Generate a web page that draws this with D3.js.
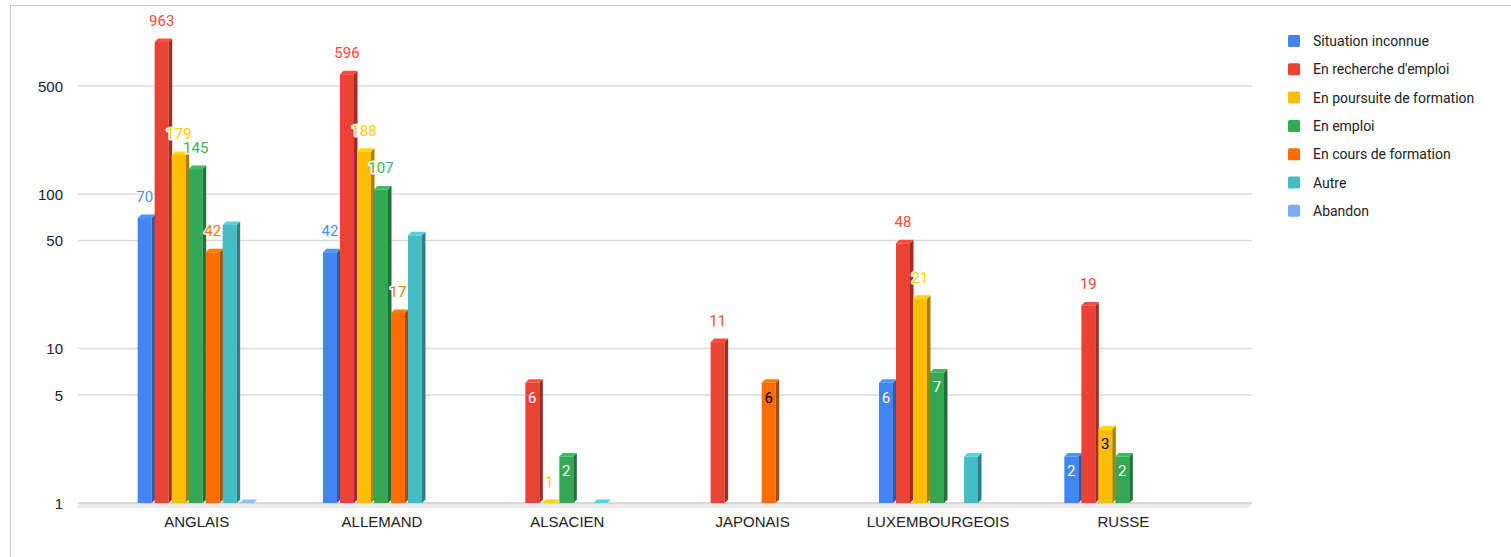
<html>
<head>
    <title>Situation par langue</title>
    <script src='https://d3js.org/d3.v7.min.js'></script>
    <style>
        body { margin: 0; background: #fff; }
        text { font-family: Roboto, Arial, sans-serif; }
        .axis text { font-family: "Liberation Sans", Arial, sans-serif; font-size: 15px; }
    </style>
</head>
<body>
    <svg id="chart"></svg>
    <script>
        // données (0 = pas de barre)
        var categories = ["ANGLAIS", "ALLEMAND", "ALSACIEN", "JAPONAIS", "LUXEMBOURGEOIS", "RUSSE"];
        var seriesNames = ["Situation inconnue", "En recherche d'emploi", "En poursuite de formation",
            "En emploi", "En cours de formation", "Autre", "Abandon"];
        var situationInconnue = [70, 42, 0, 0, 6, 2];
        var rechercheEmploi = [963, 596, 6, 11, 48, 19];
        var poursuiteFormation = [179, 188, 1, 0, 21, 3];
        var enEmploi = [145, 107, 2, 0, 7, 2];
        var coursFormation = [42, 17, 0, 6, 0, 0];
        var autre = [63, 54, 1, 0, 2, 0];
        var abandon = [1, 0, 0, 0, 0, 0];
        var yTicks = [1, 5, 10, 50, 100, 500];

        var values = [situationInconnue, rechercheEmploi, poursuiteFormation, enEmploi, coursFormation, autre, abandon];
        var colors = ["#4285f4", "#ea4335", "#fbbc04", "#34a853", "#ff6d01", "#46bdc6", "#7baaf7"];
        var labelled = [true, true, true, true, true, false, false];
        var darkText = [false, false, true, false, true, false, false];

        var W = 1511, H = 557;
        var svg = d3.select("#chart").attr("width", W).attr("height", H);

        // cadre
        svg.append("rect").attr("x", 10.5).attr("y", 5.5).attr("width", W).attr("height", H)
            .attr("fill", "none").attr("stroke", "#c8c8c8");

        var x = d3.scaleBand().domain(categories).range([104, 1216]);
        var xs = d3.scaleBand().domain(d3.range(seriesNames.length)).range([0, 119]);
        var y = d3.scaleLog().domain([1, 1000]).range([503, 39.5]);
        var depth = 3.5, barW = 14;

        // sol 3D
        svg.append("path")
            .attr("d", "M76,508 L1248,508 L1252,503 L80,503 Z")
            .attr("fill", "#ebebeb");

        // grille
        svg.append("g").selectAll("line").data(yTicks).enter().append("line")
            .attr("x1", 78).attr("x2", 1252)
            .attr("y1", function (d) { return y(d); })
            .attr("y2", function (d) { return y(d); })
            .attr("stroke", function (d) { return d == 1 ? "#cfcfcf" : "#dadada"; })
            .attr("stroke-width", 1.5);

        svg.append("g").attr("class", "axis").selectAll("text").data(yTicks).enter().append("text")
            .attr("x", 63).attr("y", function (d) { return y(d) + 5.5; })
            .attr("text-anchor", "end").style("fill", "#222")
            .text(function (d) { return d; });

        var xAxis = svg.append("g").attr("class", "axis").attr("transform", "translate(0,503)")
            .call(d3.axisBottom(x).tickSize(0).tickPadding(13));
        xAxis.select(".domain").remove();
        xAxis.selectAll("text").style("fill", "#222");

        var bars = [];
        values.forEach(function (arr, s) {
            arr.forEach(function (v, c) {
                if (v > 0) bars.push({ s: s, c: c, v: v });
            });
        });

        var g = svg.append("g");
        bars.forEach(function (b) {
            var x0 = x(categories[b.c]) + (x.bandwidth() - 119) / 2 + xs(b.s) + 0.5;
            var y0 = y(b.v), yb = y(1);
            var col = d3.color(colors[b.s]);
            // face avant
            if (yb - y0 > 0.5) {
                g.append("rect").attr("x", x0).attr("y", y0).attr("width", barW).attr("height", yb - y0)
                    .attr("fill", colors[b.s]);
                g.append("path")
                    .attr("d", "M" + (x0 + barW) + "," + y0 + " L" + (x0 + barW + depth) + "," + (y0 - depth) +
                        " L" + (x0 + barW + depth) + "," + (yb - depth) + " L" + (x0 + barW) + "," + yb + " Z")
                    .attr("fill", col.darker(1.1));
            }
            // dessus
            g.append("path")
                .attr("d", "M" + x0 + "," + y0 + " L" + (x0 + depth) + "," + (y0 - depth) +
                    " L" + (x0 + barW + depth) + "," + (y0 - depth) + " L" + (x0 + barW) + "," + y0 + " Z")
                .attr("fill", col.brighter(0.35));
        });

        // étiquettes
        bars.forEach(function (b) {
            if (!labelled[b.s]) return;
            var cx = x(categories[b.c]) + (x.bandwidth() - 119) / 2 + xs(b.s) + 0.5 + barW / 2;
            var y0 = y(b.v), h = y(1) - y0;
            var inside = b.v > 1 && h < 150;
            var t = svg.append("text").attr("x", cx).attr("text-anchor", "middle")
                .style("font-size", "15px").text(b.v);
            if (inside) {
                t.attr("y", y0 + 20).attr("fill", darkText[b.s] ? "#000" : "#fff");
            } else {
                t.attr("y", y0 - 16).attr("fill", d3.color(colors[b.s]).brighter(0.2))
                    .attr("stroke", "#fff").attr("stroke-width", 3).attr("paint-order", "stroke")
                    .attr("stroke-linejoin", "round");
            }
        });

        // légende
        var leg = svg.append("g").attr("transform", "translate(1288,41)");
        seriesNames.forEach(function (n, i) {
            var row = leg.append("g").attr("transform", "translate(0," + (i * 28.3) + ")");
            row.append("rect").attr("x", 0).attr("y", -6).attr("width", 12).attr("height", 12)
                .attr("rx", 1.5).attr("fill", colors[i]);
            row.append("text").attr("x", 25).attr("y", 5).style("font-size", "14px").attr("fill", "#222").text(n);
        });
    </script>
</body>
</html>
